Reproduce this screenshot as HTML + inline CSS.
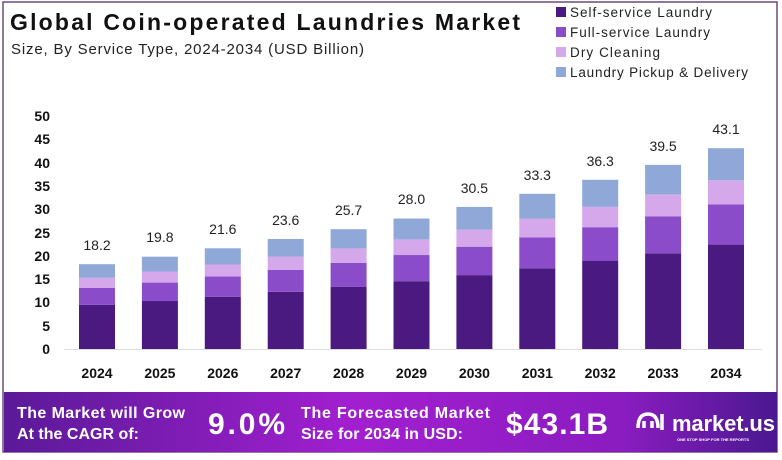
<!DOCTYPE html>
<html><head><meta charset="utf-8"><style>
body{margin:0;width:782px;height:455px;background:#fff;overflow:hidden;font-family:"Liberation Sans",sans-serif;}
</style></head><body>
<svg width="782" height="455" xmlns="http://www.w3.org/2000/svg" font-family="Liberation Sans, sans-serif">
<defs>
<linearGradient id="bg" x1="0" x2="1" y1="0" y2="0">
<stop offset="0" stop-color="#5a1a98"/><stop offset="0.45" stop-color="#a21fd0"/><stop offset="0.8" stop-color="#8a1cc0"/><stop offset="1" stop-color="#4a1890"/>
</linearGradient>
</defs>
<rect x="3" y="2" width="774" height="450" fill="none" stroke="#6a4a80" stroke-width="1.5"/>
<text x="10" y="30" font-size="23" font-weight="bold" fill="#111" textLength="510">Global Coin-operated Laundries Market</text>
<text x="11" y="54" font-size="15" fill="#222" textLength="353">Size, By Service Type, 2024-2034 (USD Billion)</text>
<g font-size="13.5" fill="#222">
<rect x="556" y="7" width="10" height="10" fill="#4a1a80"/><text x="570" y="17" textLength="142">Self-service Laundry</text>
<rect x="556" y="27" width="10" height="10" fill="#8a4cc8"/><text x="570" y="37" textLength="140">Full-service Laundry</text>
<rect x="556" y="47" width="10" height="10" fill="#d4a8ea"/><text x="570" y="57" textLength="90">Dry Cleaning</text>
<rect x="556" y="67" width="10" height="10" fill="#8fa8d8"/><text x="570" y="77" textLength="178">Laundry Pickup &amp; Delivery</text>
</g>
<g font-size="14" font-weight="bold" fill="#111" text-anchor="end">
<text x="50" y="354">0</text><text x="50" y="331">5</text><text x="50" y="307">10</text><text x="50" y="284">15</text><text x="50" y="261">20</text><text x="50" y="238">25</text><text x="50" y="214">30</text><text x="50" y="191">35</text><text x="50" y="168">40</text><text x="50" y="144">45</text><text x="50" y="121">50</text>
</g>
<line x1="64" y1="349.5" x2="762" y2="349.5" stroke="#ddd" stroke-width="1"/>
<g>
<rect x="79" y="304.9" width="36" height="44.1" fill="#4a1a80"/><rect x="79" y="287.9" width="36" height="17" fill="#8a4cc8"/><rect x="79" y="277.8" width="36" height="10.2" fill="#d4a8ea"/><rect x="79" y="264.2" width="36" height="13.6" fill="#8fa8d8"/>
<rect x="141.9" y="301" width="36" height="48" fill="#4a1a80"/><rect x="141.9" y="282.6" width="36" height="18.5" fill="#8a4cc8"/><rect x="141.9" y="271.5" width="36" height="11.1" fill="#d4a8ea"/><rect x="141.9" y="256.7" width="36" height="14.8" fill="#8fa8d8"/>
<rect x="204.8" y="296.7" width="36" height="52.3" fill="#4a1a80"/><rect x="204.8" y="276.5" width="36" height="20.2" fill="#8a4cc8"/><rect x="204.8" y="264.5" width="36" height="12.1" fill="#d4a8ea"/><rect x="204.8" y="248.3" width="36" height="16.2" fill="#8fa8d8"/>
<rect x="267.7" y="291.8" width="36" height="57.2" fill="#4a1a80"/><rect x="267.7" y="269.8" width="36" height="22" fill="#8a4cc8"/><rect x="267.7" y="256.6" width="36" height="13.2" fill="#d4a8ea"/><rect x="267.7" y="239" width="36" height="17.6" fill="#8fa8d8"/>
<rect x="330.6" y="286.7" width="36" height="62.3" fill="#4a1a80"/><rect x="330.6" y="262.8" width="36" height="24" fill="#8a4cc8"/><rect x="330.6" y="248.4" width="36" height="14.4" fill="#d4a8ea"/><rect x="330.6" y="229.2" width="36" height="19.2" fill="#8fa8d8"/>
<rect x="393.5" y="281.2" width="36" height="67.8" fill="#4a1a80"/><rect x="393.5" y="255" width="36" height="26.2" fill="#8a4cc8"/><rect x="393.5" y="239.4" width="36" height="15.7" fill="#d4a8ea"/><rect x="393.5" y="218.5" width="36" height="20.9" fill="#8fa8d8"/>
<rect x="456.4" y="275.1" width="36" height="73.9" fill="#4a1a80"/><rect x="456.4" y="246.7" width="36" height="28.5" fill="#8a4cc8"/><rect x="456.4" y="229.6" width="36" height="17.1" fill="#d4a8ea"/><rect x="456.4" y="206.9" width="36" height="22.7" fill="#8fa8d8"/>
<rect x="519.3" y="268.3" width="36" height="80.7" fill="#4a1a80"/><rect x="519.3" y="237.3" width="36" height="31" fill="#8a4cc8"/><rect x="519.3" y="218.7" width="36" height="18.6" fill="#d4a8ea"/><rect x="519.3" y="193.8" width="36" height="24.9" fill="#8fa8d8"/>
<rect x="582.2" y="261" width="36" height="88" fill="#4a1a80"/><rect x="582.2" y="227.2" width="36" height="33.8" fill="#8a4cc8"/><rect x="582.2" y="206.9" width="36" height="20.3" fill="#d4a8ea"/><rect x="582.2" y="179.8" width="36" height="27.1" fill="#8fa8d8"/>
<rect x="645.1" y="253.3" width="36" height="95.7" fill="#4a1a80"/><rect x="645.1" y="216.5" width="36" height="36.8" fill="#8a4cc8"/><rect x="645.1" y="194.4" width="36" height="22.1" fill="#d4a8ea"/><rect x="645.1" y="164.9" width="36" height="29.5" fill="#8fa8d8"/>
<rect x="708" y="244.6" width="36" height="104.4" fill="#4a1a80"/><rect x="708" y="204.4" width="36" height="40.2" fill="#8a4cc8"/><rect x="708" y="180.3" width="36" height="24.1" fill="#d4a8ea"/><rect x="708" y="148.2" width="36" height="32.1" fill="#8fa8d8"/>
</g>
<g font-size="14" fill="#222" text-anchor="middle">
<text x="97" y="250">18.2</text><text x="159.9" y="242">19.8</text><text x="222.8" y="234">21.6</text><text x="285.7" y="225">23.6</text><text x="348.6" y="215">25.7</text><text x="411.5" y="204">28.0</text><text x="474.4" y="193">30.5</text><text x="537.3" y="180">33.3</text><text x="600.2" y="166">36.3</text><text x="663.1" y="151">39.5</text><text x="726" y="134">43.1</text>
</g>
<g font-size="14" font-weight="bold" fill="#111" text-anchor="middle">
<text x="97" y="378">2024</text><text x="159.9" y="378">2025</text><text x="222.8" y="378">2026</text><text x="285.7" y="378">2027</text><text x="348.6" y="378">2028</text><text x="411.5" y="378">2029</text><text x="474.4" y="378">2030</text><text x="537.3" y="378">2031</text><text x="600.2" y="378">2032</text><text x="663.1" y="378">2033</text><text x="726" y="378">2034</text>
</g>
<rect x="4" y="392" width="773" height="60" fill="url(#bg)"/>
<g fill="#fff" font-weight="bold">
<text x="17" y="418" font-size="16" textLength="168">The Market will Grow</text>
<text x="17" y="439" font-size="16" textLength="122">At the CAGR of:</text>
<text x="208" y="434" font-size="30" textLength="77">9.0%</text>
<text x="301" y="418" font-size="16" textLength="189">The Forecasted Market</text>
<text x="301" y="439" font-size="16" textLength="162">Size for 2034 in USD:</text>
<text x="506" y="434" font-size="30" textLength="102">$43.1B</text>
<text x="672" y="431" font-size="22" textLength="103">market.us</text>
<text x="677" y="441" font-size="4">ONE STOP SHOP FOR THE REPORTS</text>
<path d="M638 428 q0-14 10-14 q10 0 10 14 M644 428 v-7 M652 428 v-7 M662 430 v-16" stroke="#fff" stroke-width="3.5" fill="none"/>
</g>
</svg>
</body></html>
